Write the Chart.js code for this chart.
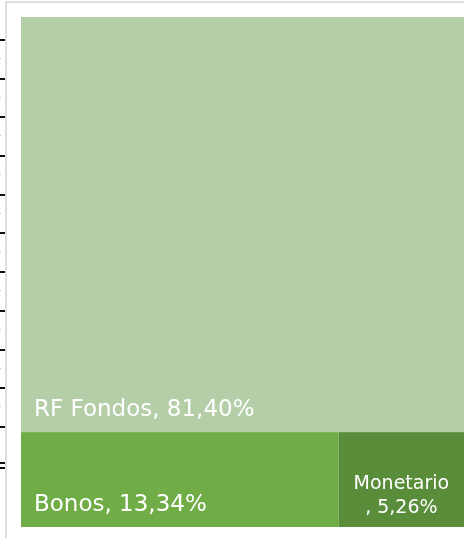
<!DOCTYPE html>
<html>
<head>
<meta charset="utf-8">
<script src="https://cdn.jsdelivr.net/npm/chart.js@4"></script>
<style>
  html, body { margin: 0; padding: 0; background: #fff; }
  #wrap { position: relative; width: 464px; height: 538px; overflow: hidden; }
  #frameTop { position: absolute; left: 5px; top: 1px; width: 459px; height: 2px; background: #dedede; }
  #frameLeft { position: absolute; left: 5px; top: 1px; width: 2px; height: 537px; background: #dedede; }
  #ticks {
    position: absolute; left: 0; top: 39px; width: 5px; height: 400px;
    background: repeating-linear-gradient(to bottom,
      #111 0px, #111 2px, transparent 2px, transparent 38.7px);
  }
  #dots {
    position: absolute; left: 0; top: 58px; width: 1px; height: 380px;
    background: repeating-linear-gradient(to bottom,
      #c8c8c8 0px, #c8c8c8 1px, transparent 1px, transparent 38.7px);
  }
  .tk { position: absolute; left: 0; width: 5px; height: 2px; background: #111; }
  canvas { position: absolute; left: 0; top: 0; }
</style>
</head>
<body>
<div id="wrap">
  <div id="frameTop"></div>
  <div id="frameLeft"></div>
  <div id="ticks"></div>
  <div id="dots"></div>
  <div class="tk" style="top:462px"></div>
  <div class="tk" style="top:467px"></div>
  <canvas id="treemap" width="464" height="538"></canvas>
</div>
<script>
/* ================= DATA ================= */

const categories = ["RF Fondos", "Bonos", "Monetario"];
const shares = [81.40, 13.34, 5.26];
const cellColors = ["#b4cea8", "#70ad47", "#5a8d3a"];

/* ================= SQUARIFIED LAYOUT ================= */

// works in pixel-equivalent units so aspect ratios are real
function worst(row, side) {
  const sum = row.reduce((a, b) => a + b, 0);
  const mx = Math.max(...row), mn = Math.min(...row);
  return Math.max(side * side * mx / (sum * sum), (sum * sum) / (side * side * mn));
}

function squarify(values, w, h) {
  const total = values.reduce((a, b) => a + b, 0);
  const areas = values.map(v => v / total * w * h);
  const out = [];
  let x = 0, y = 0, row = [], i = 0;

  function layRow(r) {
    const sum = r.reduce((a, b) => a + b, 0);
    if (w >= h) {
      const thick = sum / h;
      let yy = y;
      r.forEach(a => { out.push({ x0: x, y0: yy, x1: x + thick, y1: yy + a / thick }); yy += a / thick; });
      x += thick; w -= thick;
    } else {
      const thick = sum / w;
      let xx = x;
      r.forEach(a => { out.push({ x0: xx, y0: y, x1: xx + a / thick, y1: y + thick }); xx += a / thick; });
      y += thick; h -= thick;
    }
  }

  while (i < areas.length) {
    const side = Math.min(w, h);
    const next = row.concat(areas[i]);
    if (row.length === 0 || worst(next, side) <= worst(row, side)) {
      row = next; i++;
    } else {
      layRow(row); row = [];
    }
  }
  if (row.length) layRow(row);
  return out;
}

function fmtShare(v) {
  return v.toFixed(2).replace(".", ",") + "%";
}

/* ================= TREEMAP PLUGIN ================= */

const treemapCells = {
  id: "treemapCells",
  afterDatasetsDraw(chart) {
    const { ctx } = chart;
    const xs = chart.scales.x, ys = chart.scales.y;
    const sx = (xs.getPixelForValue(100) - xs.getPixelForValue(0)) / 100;
    const sy = (ys.getPixelForValue(100) - ys.getPixelForValue(0)) / 100;
    const cells = squarify(shares, 100 * sx, 100 * sy);

    ctx.save();
    cells.forEach((c, i) => {
      const left = xs.getPixelForValue(c.x0 / sx);
      const right = xs.getPixelForValue(c.x1 / sx);
      const top = ys.getPixelForValue(c.y0 / sy);
      const bottom = ys.getPixelForValue(c.y1 / sy);
      ctx.fillStyle = cellColors[i];
      ctx.fillRect(left, top, right - left, bottom - top);

      const label = categories[i] + ", " + fmtShare(shares[i]);
      ctx.fillStyle = "#ffffff";
      ctx.textBaseline = "alphabetic";
      ctx.font = "23px 'DejaVu Sans'";
      if (ctx.measureText(label).width + 26 < right - left) {
        ctx.textAlign = "left";
        ctx.fillText(label, left + 13, bottom - 16);
      } else {
        ctx.font = "19px 'DejaVu Sans'";
        ctx.textAlign = "center";
        const cx = (left + right) / 2;
        ctx.fillText(categories[i], cx, bottom - 38);
        ctx.fillText(", " + fmtShare(shares[i]), cx, bottom - 14);
      }
    });
    ctx.restore();
  }
};

/* ================= CHART ================= */

new Chart(document.getElementById("treemap"), {
  type: "scatter",
  data: {
    datasets: [{ label: "Distribución", data: [] }]
  },
  options: {
    responsive: false,
    animation: false,
    layout: { padding: { left: 21, top: 17, right: 0, bottom: 11 } },
    plugins: {
      legend: { display: false },
      tooltip: { enabled: false }
    },
    scales: {
      x: { type: "linear", min: 0, max: 100, display: false },
      y: { type: "linear", min: 0, max: 100, reverse: true, display: false }
    }
  },
  plugins: [treemapCells]
});
</script>
</body>
</html>
